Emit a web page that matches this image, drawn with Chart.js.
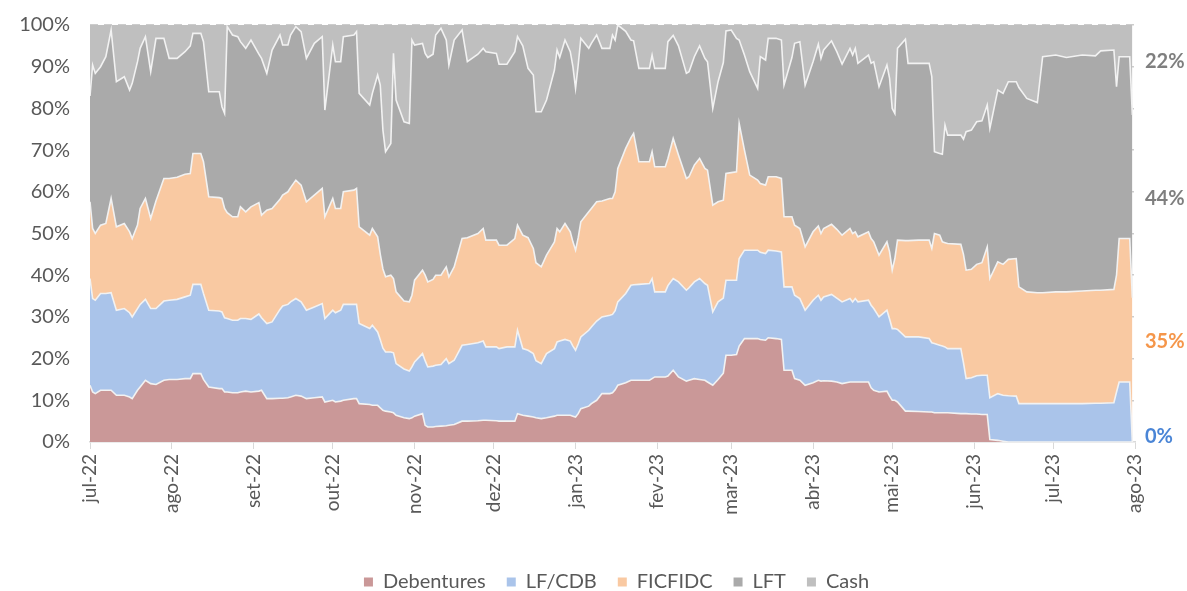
<!DOCTYPE html>
<html>
<head>
<meta charset="utf-8">
<script src="https://cdn.jsdelivr.net/npm/chart.js@4"></script>
<style>
  html, body { margin:0; padding:0; background:#ffffff; }
  #box { width:1187px; height:591px; }
</style>
</head>
<body>
<div id="box"><canvas id="myChart"></canvas></div>
<script>
// dias corridos desde 01/jul/2022
var dias = [0,1,2,4,6,8,10,13,15,16,18,19,21,23,25,28,30,33,36,38,39,42,43,45,49,50,51,52,54,56,57,59,61,64,
  65,67,69,72,73,75,76,78,80,82,85,88,89,92,93,95,96,100,101,102,106,107,109,110,111,112,114,115,116,119,121,122,123,126,127,
  128,130,131,133,135,136,138,141,143,147,149,150,154,155,158,161,162,164,166,168,169,171,173,176,177,178,180,182,183,184,185,186,189,190,192,
  194,197,198,199,200,203,205,206,208,212,213,214,218,219,221,223,226,227,229,231,233,234,236,238,240,241,243,245,246,248,250,253,254,256,257,
  260,262,263,266,267,269,271,274,276,277,278,281,283,285,288,289,290,291,295,296,297,299,302,303,304,305,306,309,310,314,318,319,320,322,
  323,324,325,330,331,332,334,336,338,340,341,344,346,348,351,352,355,359,361,366,370,376,381,383,388,389,390,394,395];

var debentures = [13.6,12,11.6,12.4,12.4,12.4,11.2,11.2,10.8,10.4,12.4,13.2,14.8,14,13.8,14.8,15,15,15.2,15.2,16.4,16.4,15,13.2,12.8,12.8,12,12,11.8,11.8,12,12.2,12,12.2,
  12.4,10.4,10.4,10.5,10.5,10.6,10.8,11.2,11,10.4,10.6,10.8,9.6,10,9.6,9.8,10,10.4,10.4,9.2,9,8.8,8.8,8.2,7.6,7.4,7.2,7,6.4,5.8,5.6,5.8,6.2,6.8,4,
  3.6,3.6,3.7,3.8,3.9,4,4.2,5,5,5.1,5.2,5.2,5.1,5,5,5,6.8,6.4,6.2,6,5.8,5.6,5.8,6.2,6.4,6.4,6.4,6.4,6.2,6,6.8,8,8.6,9.2,10,
  11.6,11.6,11.8,12.5,13.6,14.2,14.8,14.8,14.8,14.8,15.2,15.6,15.6,15.8,17.2,15.6,14.6,14.8,15.2,15,14.8,14.4,13.6,15,16.5,20.8,20.8,21,23,24.8,24.8,24.8,24.6,24.4,25,
  24.8,24.6,17.2,17.2,15.2,14.8,13.6,14.2,14.8,14.6,14.7,14.6,14.4,14,14.4,14.4,14.4,14.4,14.4,13,12.4,12,12.2,11,10,10,9.6,7.4,7.4,7.3,7.2,7.2,7,7,
  7,7,7,6.8,6.8,6.8,6.7,6.7,6.6,6.6,0.6,0.4,0.2,0,0,0,0,0,0,0,0,0,0,0,0,0,0,0,0];

var lfcdb = [25.6,22.4,22.4,23.2,23.2,23.4,20.4,20.8,20.2,19.6,19.6,19.8,19.4,18,18.2,19,19,19.2,19.6,20,21.4,21.4,20.6,18.4,18.6,18.4,17.8,17.6,17.4,17.4,17.6,17.4,17.4,18.5,
  17.4,18,18.4,21.3,22.1,22.4,22.8,23.2,22.6,21.2,21.8,22.4,20,21.6,21.4,21.8,23,22.6,22.6,19.2,18.2,19.2,17.6,16.3,14.9,14.2,14.4,14.4,12.4,11.7,11.4,12.2,13,14.4,15.5,
  14.4,14.6,14.7,14.8,16.1,14.8,15.4,18.2,18.4,18.7,19,17.6,17.7,17.4,17.8,17.8,20,16,15.8,15.2,13.7,13.2,15.4,16.2,17.6,17.8,18.2,17.8,16.8,16,16.7,17.2,18.2,18.4,19,
  18.4,18.8,18.8,19,20,21.4,22.8,22.9,23,23.2,24,20.4,20.4,21.7,22,22.8,21.8,22.2,23.2,24.2,23.2,23.2,17.6,18.6,18,18,18,17.8,21,21.2,21.2,21.2,20.9,20.8,21,
  21,21,20,20,20,19.6,18,19.8,20.4,19.4,20.1,20.8,20.1,19.6,20,19.2,20,19.2,19.6,19.8,19.6,18,19.4,18.5,17.2,17.2,17.4,17.8,17.8,17.9,17.6,16.6,16.6,16.2,
  16,15.8,15.4,15.6,12.2,8.4,8.7,9.2,9.4,9.4,10,11.2,11,11.1,11,9.2,9.2,9.2,9.2,9.2,9.2,9.2,9.3,9.3,9.4,12,14.4,14.4,0];

var ficfidc = [18.4,16.8,16,16.4,16.8,22.6,20,20.4,19.4,18.8,20,23,24.2,21.6,25.8,29.4,29.2,29.3,29.4,29.2,31.4,31.4,31.6,27.2,27.2,27.2,26.2,25.4,24.8,24.8,26.8,25.6,27,26.7,
  24.6,27.2,27.2,26.4,26.6,27,27.4,28.4,28,26,26.8,27.6,24.4,26.8,25,24.4,27,27.4,27.8,23.2,22.4,23.2,22.8,20.5,19,18,18.4,17.8,17.2,16.3,16.6,17.2,19.6,20,20.5,
  20.4,20.8,21.6,21.4,22,20.8,22.4,25.6,25.6,26.2,27,25.6,25.6,24.8,24.4,26,25.2,27.2,27,25.2,23.5,23.2,23.6,25.6,27.2,26.2,27.8,26.2,25,24,25.5,27.6,28.4,28.4,28.6,
  27.8,28,27.8,28.5,32,34.8,35.4,36.3,29.4,29.2,30.4,30,30,30.5,33.6,30.4,26.8,26.6,28,28.8,27.6,27.6,25.6,24,23.5,25.6,25.8,26,32.4,24,18,16.8,16.5,16.4,17.6,
  17.8,17.6,16.8,16.8,16.8,16.8,15.2,16.4,16.6,16,16.4,16.8,16.5,16,16.8,16.4,16,15.6,16.4,16,16,14.8,16.4,16.1,14,16.8,21.4,23.1,23.1,23.2,23.6,22.6,26.4,26.4,
  25,25,25.2,25,26,26,26,26.7,27,30.8,28.6,31.6,31.4,32.7,33,28,26.8,26.6,26.6,26.8,26.8,27,27.1,27.1,27.2,28,34.4,34.4,34.6];

var lft = [25.4,39.2,38.4,38,40,40.4,34.8,35.2,34,37.2,39.2,38.4,38.8,35.2,39,33.6,28.8,28.5,29.4,30.6,28.8,28.8,28.8,25.2,25.4,22,22.8,44.6,43.6,43.2,39.6,39.2,40,35.6,
  37.6,32.8,38,39.4,36,35.2,36.6,36.8,36.8,34.4,36.4,36.4,25.6,36.8,35.2,35.2,37.2,37.2,37.6,32,31.2,32.4,38.8,40.6,33.3,30,31.6,54,46,43,42.8,61.2,56.4,54.4,53.2,
  53.8,54,57.6,59.2,54.4,50.8,54.4,50,42.2,43,43.2,45.2,44.8,43.4,43.4,44.8,45.2,45.4,40.6,41.6,36.2,37.2,37.2,41.2,42.8,41.8,44,43.2,42,38.8,41.4,44,39.2,39.6,40,
  36.6,36,39.2,36.4,34.4,28.1,23.4,22.2,22.4,22.4,23.2,23.6,23.6,28,24.7,26.2,25.2,25.2,26,27,26.4,26,23.2,28.8,33,34.2,34.2,32,20,22.8,24.8,22,30.4,30,33.2,
  33.2,33.2,31.6,38.2,43.6,44.8,38.8,40.8,43.6,42,42.8,44,42.6,41,43.2,42.8,44,41.6,42.4,42,43.2,40.4,42.4,41.6,38.8,34.8,46,48.3,42.5,42.4,42.4,41.2,19.6,19.6,
  21,28.2,26,26.2,27.6,33.2,33.4,34.2,34,34,36,41.2,41,42.6,42.4,47.8,46.4,45.6,56.6,56.8,56.2,56.6,56.2,57.4,57.4,45.2,43.6,43.6,43.8];

var cash = [17,9.6,11.6,10,7.6,1.2,13.6,12.4,15.6,14,8.8,5.6,2.8,11.2,3.2,3.2,8,8,6.4,5,2,2,4,16,16,19.6,21.2,0.4,2.4,2.8,4,5.6,3.6,7,
  8,11.6,6,2.4,4.8,4.8,2.4,0.4,1.6,8,4.4,2.8,20.4,4.8,8.8,8.8,2.8,2.4,1.6,16.4,19.2,16.4,12,14.4,25.2,30.4,28.4,6.8,18,23.2,23.6,3.6,4.8,4.4,6.8,
  7.8,7,2.4,0.8,3.6,9.6,3.6,1.2,8.8,7,5.6,6.4,6.8,9.4,9.4,6.4,2.8,5,10.4,12,20.8,20.8,18,10.8,6,7.8,3.6,6.4,10,15.2,9.6,3.2,5.6,4.4,2.4,
  5.6,5.6,2.4,3.6,0,1.5,3.6,3.8,10.4,10.4,7.2,10.4,10.4,4,2.5,5,11.6,11.2,7.6,5,8,8.8,20,13.6,9,1.4,1.2,3.2,3.6,7.2,11.2,15.2,7.6,8.4,3.2,
  3.2,3.6,14.4,7.8,4.4,4,14.4,8.8,4.6,8,6,3.8,6.4,9.4,5.6,7.2,5.6,9.2,7.2,9.2,8.8,14.8,9.6,12.8,20,21.2,5.6,3.4,9.2,9.2,9.2,12.4,30.4,30.8,
  31,24,26.4,26.4,27.4,25.6,25.2,23.2,23,19.2,24.8,15.6,16.4,13.6,13.6,15,17.6,18.6,7.6,7.2,7.8,7.2,7.4,6.2,6,14.8,7.6,7.6,21.6];

// rotulos dos meses no eixo x
var mesesDias = [0,31,62,92,123,153,184,215,243,274,304,335,365,396];
var mesesRotulos = ["jul-22","ago-22","set-22","out-22","nov-22","dez-22","jan-23","fev-23","mar-23","abr-23","mai-23","jun-23","jul-23","ago-23"];

var nomes = ["Debentures","LF/CDB","FICFIDC","LFT","Cash"];
var cores = ["#ca9898","#aac4ea","#f9c9a2","#aaaaaa","#bfbfbf"];
var coresRotulo = [null,"#4a85d6","#f5964a","#7f7f7f","#7f7f7f"];

const FONTE = "Lato, 'Open Sans', sans-serif";
const CINZA_TXT = "#595959";

// rotulos da ultima data na direita
var endLabels = {
  id: "endLabels",
  afterLayout(chart) {
    // legenda do excel fica um pouco mais a direita e mais baixa
    chart.legend.left += 44;
    chart.legend.right += 44;
    chart.legend.top += 11;
    chart.legend.bottom += 11;
  },
  afterDraw(chart) {
    const ctx = chart.ctx;
    const y = chart.scales.y;
    const area = chart.chartArea;
    // altura (em %) onde cada rotulo fica, como no grafico original
    const alturas = [null, 1.2, 24.1, 58.3, 91.2];
    ctx.save();
    ctx.font = "bold 20px " + FONTE;
    ctx.textBaseline = "middle";
    ctx.textAlign = "left";
    for (let ii = 0; ii < chart.data.datasets.length; ii++) {
      if (alturas[ii] == null) continue;
      const ds = chart.data.datasets[ii].data;
      const ultimo = ds[ds.length - 1];
      ctx.fillStyle = coresRotulo[ii];
      ctx.fillText(Math.round(ultimo) + "%", area.right + 10, y.getPixelForValue(alturas[ii]));
    }
    ctx.restore();
  }
};

function montaDatasets() {
  const series = [debentures, lfcdb, ficfidc, lft, cash];
  const out = [];
  for (let ii = 0; ii < series.length; ii++) {
    out.push({
      label: nomes[ii],
      data: series[ii],
      backgroundColor: cores[ii],
      borderColor: ii == 4 ? "rgba(0,0,0,0)" : "#f2f2f2",
      borderWidth: 1.6,
      pointRadius: 0,
      tension: 0,
      fill: ii == 0 ? "origin" : "-1"
    });
  }
  return out;
}

function init_graph() {
  const ctx = document.getElementById("myChart");
  new Chart(ctx, {
    type: "line",
    data: { labels: dias, datasets: montaDatasets() },
    options: {
      responsive: true,
      maintainAspectRatio: false,
      animation: false,
      layout: { padding: { top: 25, right: 52, left: 10, bottom: 0 } },
      plugins: {
        tooltip: { enabled: false },
        legend: {
          position: "bottom",
          labels: {
            color: CINZA_TXT,
            font: { family: FONTE, size: 20 },
            boxWidth: 9,
            boxHeight: 9,
            padding: 21,
            generateLabels(chart) {
              const items = Chart.defaults.plugins.legend.labels.generateLabels(chart);
              items.forEach(it => { it.lineWidth = 0; it.strokeStyle = it.fillStyle; });
              return items;
            }
          }
        }
      },
      scales: {
        x: {
          type: "linear",
          min: 0,
          max: 396,
          afterBuildTicks(scale) {
            scale.ticks = mesesDias.map(v => ({ value: v }));
          },
          afterFit(scale) { scale.height = 98; },
          ticks: {
            autoSkip: false,
            minRotation: 90,
            maxRotation: 90,
            padding: 5,
            color: CINZA_TXT,
            font: { family: FONTE, size: 19 },
            callback: v => mesesRotulos[mesesDias.indexOf(v)]
          },
          grid: { drawOnChartArea: false, drawTicks: true, tickLength: 7, color: "#d9d9d9" },
          border: { display: true, color: "#d9d9d9", width: 1.5 }
        },
        y: {
          stacked: true,
          min: 0,
          max: 100,
          z: 1,
          afterFit(scale) { scale.width = 80; },
          ticks: {
            stepSize: 10,
            padding: 4,
            color: CINZA_TXT,
            font: { family: FONTE, size: 20 },
            callback: v => v + "%"
          },
          grid: {
            drawTicks: true,
            tickLength: 16,
            tickColor: "rgba(0,0,0,0)",
            lineWidth: 1.6,
            color: c => c.tick.value == 0 ? "rgba(0,0,0,0)" : "rgba(0,0,0,0.2)"
          },
          border: { display: false, dash: [8, 6] }
        }
      }
    },
    plugins: [endLabels]
  });
}

init_graph();
</script>
</body>
</html>
